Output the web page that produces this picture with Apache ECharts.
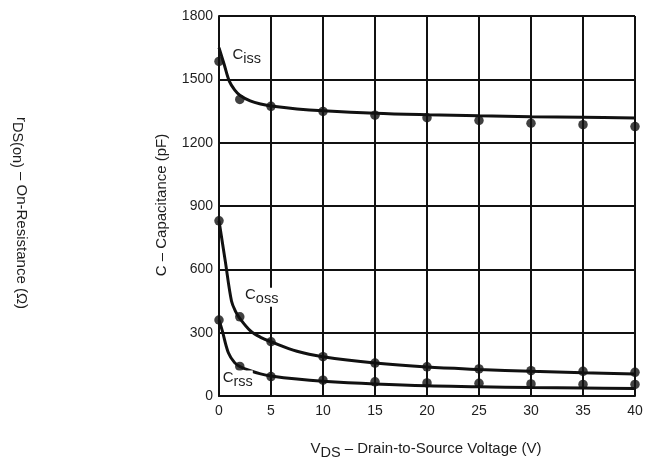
<!DOCTYPE html>
<html><head><meta charset="utf-8">
<script src="https://cdn.jsdelivr.net/npm/echarts@6/dist/echarts.min.js"></script>
<style>html,body{margin:0;padding:0;background:#fff;}#c{width:650px;height:462px;}</style>
</head><body><div id="c"></div>
<script>
// Fitted curves [VDS (V), C (pF)]
var cissCurve = [[0,1650],[0.5,1570],[1,1490],[1.5,1450],[2,1425],[3,1398],[4,1383],[5,1374],[7.5,1360],[10,1351],[15,1339],[20,1332],[25,1327],[30,1323],[35,1320],[40,1317]];
var cossCurve = [[0,830],[0.6,640],[1.2,450],[1.6,400],[2,368],[3,310],[4,278],[5,257],[7.5,212],[10,186],[15,156],[20,137],[25,126],[30,117],[35,110],[40,104]];
var crssCurve = [[0,360],[0.3,312],[0.9,205],[1.5,158],[2,140],[2.8,123],[4,105],[5,95],[7.5,80],[10,70],[15,57],[20,48],[25,44],[30,40],[35,38],[40,36]];
// Measured points
var cissPts = [[0,1585],[2,1405],[5,1372],[10,1348],[15,1330],[20,1318],[25,1305],[30,1292],[35,1285],[40,1276]];
var cossPts = [[0,830],[2,375],[5,257],[10,186],[15,156],[20,138],[25,128],[30,120],[35,117],[40,112]];
var crssPts = [[0,360],[2,140],[5,92],[10,75],[15,67],[20,62],[25,60],[30,57],[35,55],[40,55]];
// Curve label anchors [VDS, C]
var labelNames = ['iss','oss','rss'];
var labelAnchors = [[1.3,1606],[2.5,468],[0.35,76]];
var xTicks = {min:0, max:40, interval:5};
var yTicks = {min:0, max:1800, interval:300};

var FONT = 'Liberation Sans, Arial, sans-serif';
var INK = '#111';
var TXT = '#1e1e1e';
var chart = echarts.init(document.getElementById('c'), null, {renderer:'canvas'});

function lineS(d){ return {type:'line', data:d, smooth:0.35, showSymbol:false, symbol:'none', lineStyle:{color:INK, width:3}, z:3, silent:true}; }
function ptS(d){ return {type:'scatter', data:d, symbol:'circle', symbolSize:9.5, itemStyle:{color:INK}, z:4, silent:true}; }

var option = {
  animation:false,
  backgroundColor:'#fff',
  grid:{left:219, right:15, top:16, bottom:66},
  xAxis:{type:'value', min:xTicks.min, max:xTicks.max, interval:xTicks.interval,
    axisLine:{lineStyle:{color:INK, width:2}}, axisTick:{show:false},
    axisLabel:{color:TXT, fontFamily:FONT, fontSize:14, margin:8, formatter:function(v){return String(v);}},
    splitLine:{show:true, lineStyle:{color:INK, width:2}}},
  yAxis:{type:'value', min:yTicks.min, max:yTicks.max, interval:yTicks.interval,
    axisLine:{show:true, lineStyle:{color:INK, width:2}}, axisTick:{show:false},
    axisLabel:{color:TXT, fontFamily:FONT, fontSize:14, margin:6, formatter:function(v){return String(v);}},
    splitLine:{show:true, lineStyle:{color:INK, width:2}}},
  series:[lineS(cissCurve), lineS(cossCurve), lineS(crssCurve), ptS(cissPts), ptS(cossPts), ptS(crssPts)]
};
chart.setOption(option);

var rich = {
  m:{fontFamily:FONT, fontSize:15, fill:TXT, color:TXT, lineHeight:15, verticalAlign:'top'},
  s:{fontFamily:FONT, fontSize:14.5, fill:TXT, color:TXT, lineHeight:19, verticalAlign:'bottom'}
};
var richT = {
  m:{fontFamily:FONT, fontSize:15, fill:TXT, color:TXT, lineHeight:15, verticalAlign:'top'},
  s:{fontFamily:FONT, fontSize:14.5, fill:TXT, color:TXT, lineHeight:19, verticalAlign:'bottom'}
};
var g = [];
labelAnchors.forEach(function(a, i){
  var p = chart.convertToPixel({gridIndex:0}, a);
  g.push({type:'text', x:p[0], y:p[1], z:10,
    style:{text:'{m|C}{s|'+labelNames[i]+'}', rich:rich, backgroundColor:'#fff', align:'left', verticalAlign:'middle', fill:TXT}});
});
g.push({type:'text', x:162, y:205, rotation:Math.PI/2, z:10,
  style:{text:'C – Capacitance (pF)', font:'15px '+FONT, fill:TXT, align:'center', verticalAlign:'middle'}});
g.push({type:'text', x:19, y:213, rotation:-Math.PI/2, z:10,
  style:{text:'{m|r}{s|DS(on)}{m| – On-Resistance (Ω)}', rich:richT, fill:TXT, align:'center', verticalAlign:'middle'}});
g.push({type:'text', x:426, y:451, z:10,
  style:{text:'{m|V}{s|DS}{m| – Drain-to-Source Voltage (V)}', rich:richT, fill:TXT, align:'center', verticalAlign:'middle'}});
chart.setOption({graphic:g});
</script></body></html>
